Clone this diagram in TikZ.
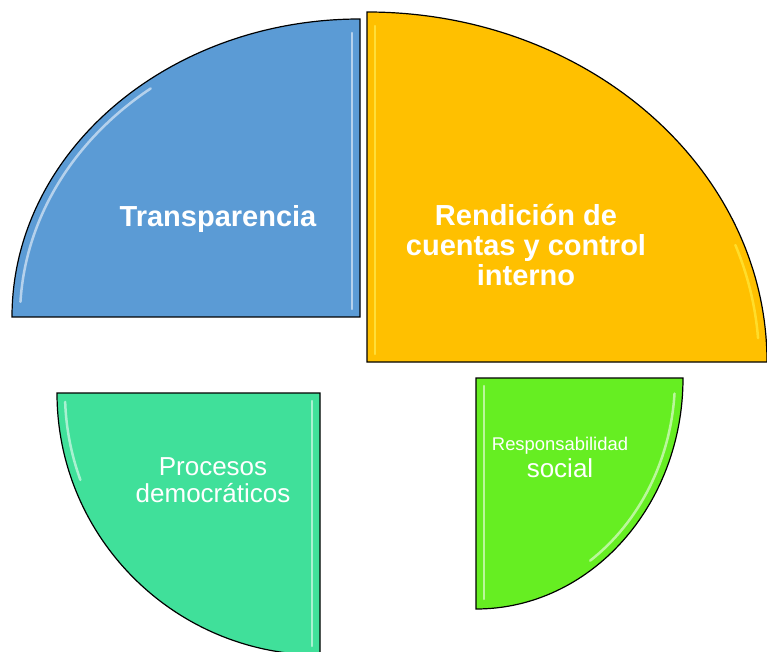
\documentclass[tikz,border=0pt]{standalone}
\usepackage{fontspec}
\setmainfont{Liberation Sans}
\usetikzlibrary{positioning}
\definecolor{transpblue}{RGB}{91,155,213}
\definecolor{rendorange}{RGB}{255,192,0}
\definecolor{procgreen}{RGB}{64,224,154}
\definecolor{resplime}{RGB}{102,238,34}

\begin{document}
\begin{tikzpicture}[x=1pt,y=1pt]
    \tikzset{sector/.style={draw=black,line width=1.2pt,line join=miter}}
    \tikzset{hilite/.style={draw=white,line width=2.5pt,opacity=0.55,line cap=round}}
    \tikzset{label/.style={text=white,align=center,inner sep=0pt}}
    \useasboundingbox (0,0) rectangle (767,651);
    % Transparencia
    \filldraw[sector,fill=transpblue] (360,334) -- (12,334)
        arc[start angle=180,end angle=90,x radius=348,y radius=298] -- cycle;
    \draw[hilite] ([shift={(177:340 and 290)}]360,334)
        arc[start angle=177,end angle=128,x radius=340,y radius=290];
    \draw[hilite] (352,342) -- (352,618);
    % Rendicion de cuentas
    \filldraw[sector,fill=rendorange] (367,289) -- (367,639)
        arc[start angle=90,end angle=0,x radius=400,y radius=350] -- cycle;
    \draw[hilite,draw=yellow!60!white] (375,297) -- (375,625);
    \draw[hilite,draw=yellow!70!white] ([shift={(20:392 and 342)}]367,289)
        arc[start angle=20,end angle=4,x radius=392,y radius=342];
    % Procesos democraticos
    \filldraw[sector,fill=procgreen] (320,258) -- (57,258)
        arc[start angle=180,end angle=270,x radius=263,y radius=262] -- cycle;
    \draw[hilite] ([shift={(182:255 and 254)}]320,258)
        arc[start angle=182,end angle=200,x radius=255,y radius=254];
    \draw[hilite] (312,250) -- (312,5);
    % Responsabilidad social
    \filldraw[sector,fill=resplime] (476,273) -- (683,273)
        arc[start angle=0,end angle=-90,x radius=207,y radius=231] -- cycle;
    \draw[hilite] ([shift={(-4:199 and 223)}]476,273)
        arc[start angle=-4,end angle=-55,x radius=199,y radius=223];
    \draw[hilite] (484,265) -- (484,52);
    % texts
    \node[label,font=\fontsize{29}{30}\selectfont\bfseries] (transp) at (218,432) {Transparencia};
    \node[label,font=\fontsize{29}{30}\selectfont\bfseries] (rend) at (526,406) {Rendición de\\cuentas y control\\interno};
    \node[label,font=\fontsize{26}{27}\selectfont] (proc) at (213,171) {Procesos\\democráticos};
    \node[label,font=\fontsize{18.4}{20}\selectfont] (resp) at (560,205) {Responsabilidad};
    \node[label,font=\fontsize{26}{27}\selectfont,below=4pt of resp] (soc) {social};
\end{tikzpicture}
\end{document}
